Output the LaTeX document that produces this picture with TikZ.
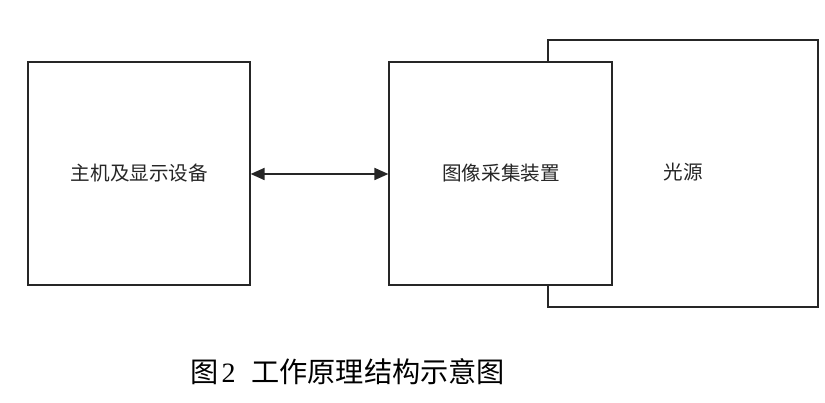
\documentclass[tikz,border=0pt]{standalone}
\usepackage{fontspec}
\newfontfamily\cjk{Noto Sans CJK SC}
\newfontfamily\serifnum{Liberation Serif}
\usetikzlibrary{arrows.meta}
\begin{document}
\begin{tikzpicture}[x=1pt,y=-1pt,
  box/.style={draw=black!85,line width=1.2pt,fill=white},
  boxtext/.style={font=\cjk\fontsize{19.6}{21}\selectfont,text=black!85,inner sep=0pt},
  captext/.style={font=\cjk\fontsize{28.2}{30}\selectfont,text=black,inner sep=0pt},
  tip/.tip={Triangle[length=14pt,width=12pt]}]
\useasboundingbox (0,0) rectangle (825,403);
% light source (behind)
\draw[box] (548,40) rectangle (818,307);
\coordinate (lsc) at (683,172);
\node[boxtext] (ls) at (lsc) {光源};
% host box
\node[box,minimum width=222pt,minimum height=223pt,inner sep=0pt] (host) at (139,173.5) {};
\node[boxtext] (hostt) at (139.5,173) {主机及显示设备};
% image acquisition box
\node[box,minimum width=223pt,minimum height=223pt,inner sep=0pt] (cam) at (500.5,173.5) {};
\node[boxtext] (camt) at (501,173) {图像采集装置};
% arrow
\draw[draw=black!85,fill=black!85,line width=1.8pt,tip-tip] (host.east |- 0,174) -- (cam.west |- 0,174);
% caption
\node[captext,anchor=west] (c1) at (190,372) {图};
\node[font=\serifnum\fontsize{28}{30}\selectfont,inner sep=0pt] (c2) at (228.5,373) {2};
\node[captext,anchor=west] (c3) at (251,372) {工作原理结构示意图};
\end{tikzpicture}
\end{document}
